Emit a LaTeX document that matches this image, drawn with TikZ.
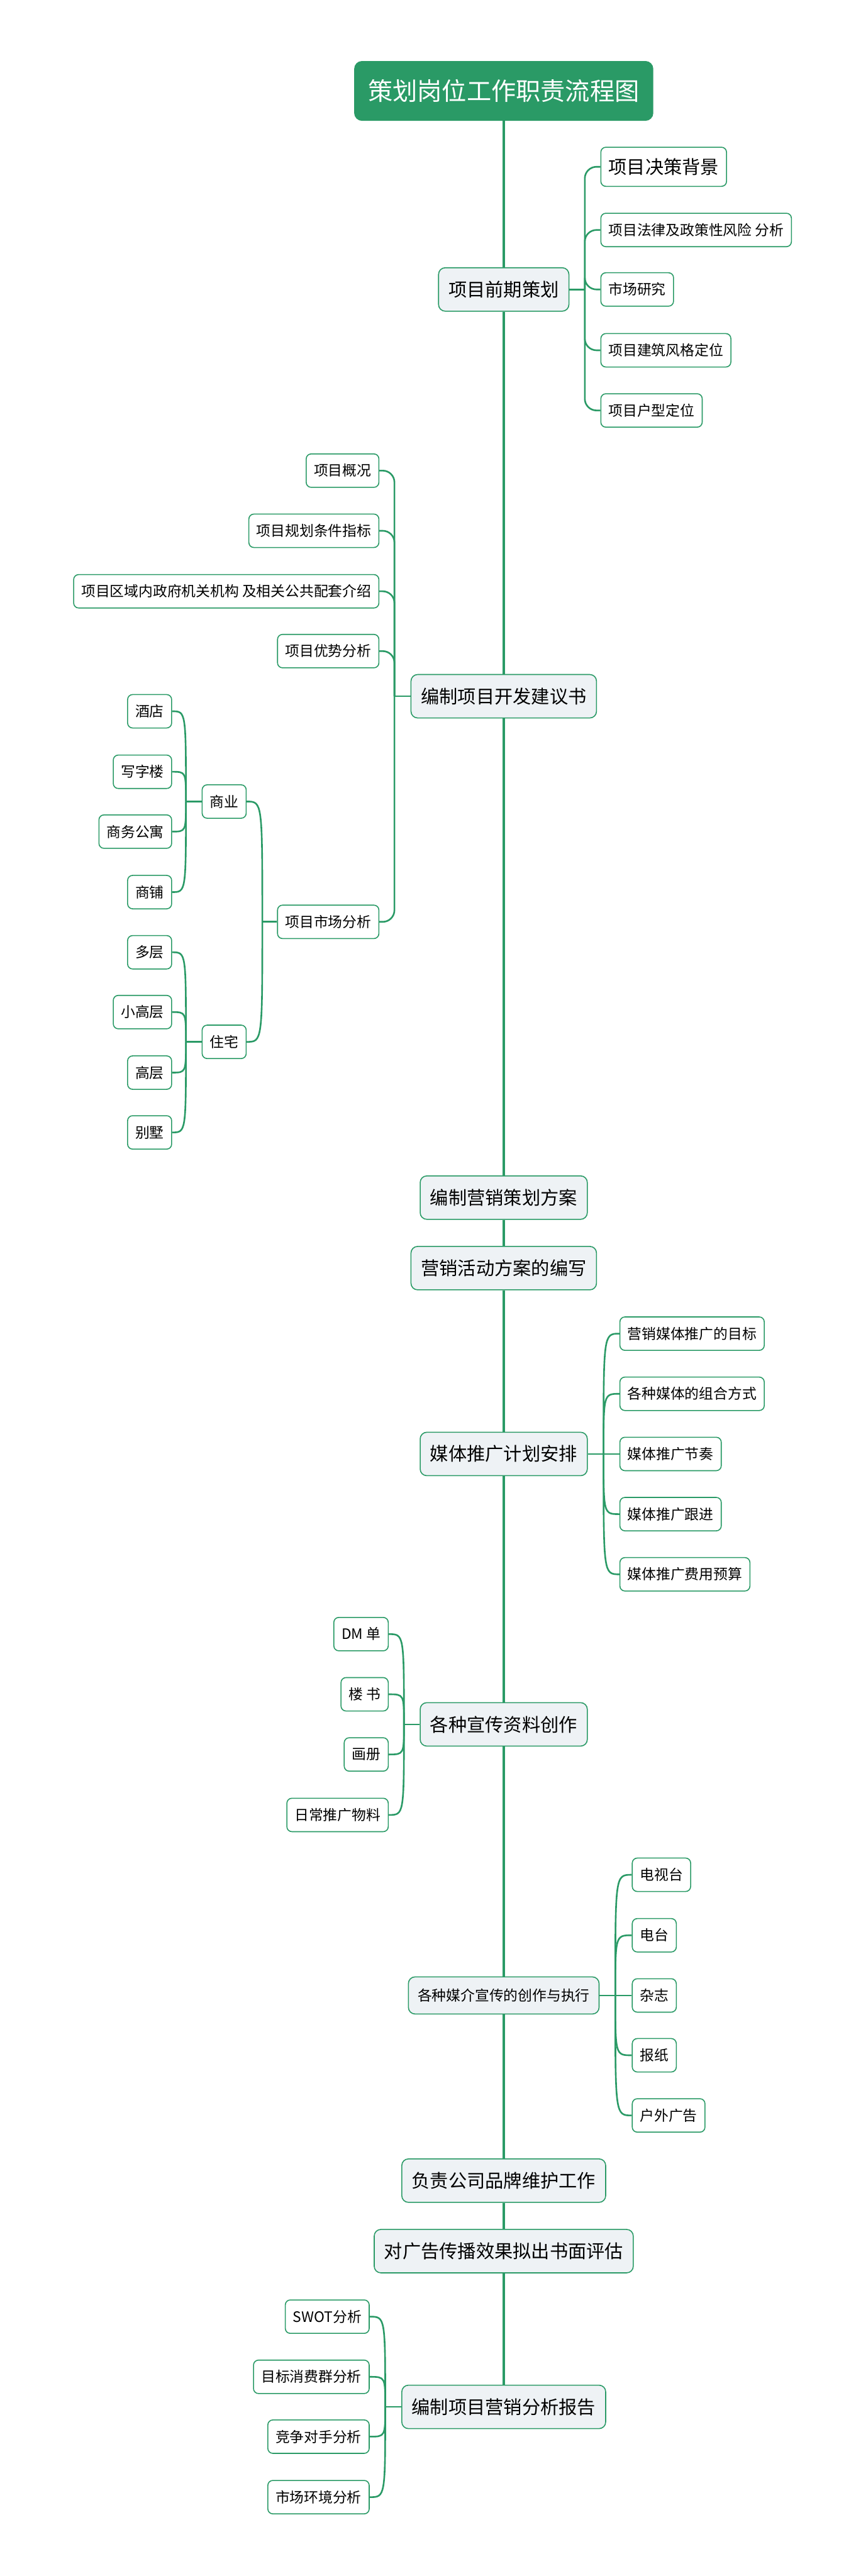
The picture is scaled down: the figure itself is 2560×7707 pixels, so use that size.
\documentclass[tikz,border=0pt]{standalone}
\usepackage{fontspec}
\setmainfont{Noto Sans CJK SC}
\definecolor{mapgreen}{HTML}{2A9A66}
\definecolor{mainfill}{HTML}{EEF2F5}
\tikzset{
    rootbox/.style={draw=mapgreen, fill=mapgreen, text=white, line width=0.85pt,
        rounded corners=2.2mm, font=\fontsize{21}{26}\selectfont,
        minimum height=17.6mm, inner xsep=4mm},
    mainbox/.style={draw=mapgreen, fill=mainfill, line width=0.85pt,
        rounded corners=2mm, font=\fontsize{15.65}{19}\selectfont,
        minimum height=13mm, inner xsep=3mm},
    mainsmall/.style={mainbox, font=\fontsize{12.2}{15}\selectfont,
        minimum height=11.1mm, inner xsep=2.8mm},
    leaf/.style={draw=mapgreen, fill=white, line width=0.85pt,
        rounded corners=1.5mm, font=\fontsize{12.2}{15}\selectfont,
        minimum height=10mm, inner xsep=2.3mm},
    bigleaf/.style={leaf, font=\fontsize{15.65}{19}\selectfont, minimum height=11.7mm},
    trunk/.style={draw=mapgreen, line width=2pt},
    link/.style={draw=mapgreen, line width=1.4pt},
    elbow/.style={link, rounded corners=3.5mm}
}
\begin{document}
\begin{tikzpicture}[x=0.1mm, y=-0.1mm]
    \useasboundingbox (0,0) rectangle (2560,7707);

    % main line
    \node[rootbox] (root) at (1507,272) {策划岗位工作职责流程图};
    \node[mainbox] (m1) at (1507,866) {项目前期策划};
    \node[mainbox] (m2) at (1507,2083) {编制项目开发建议书};
    \node[mainbox] (m3) at (1507,3583) {编制营销策划方案};
    \node[mainbox] (m4) at (1507,3794) {营销活动方案的编写};
    \node[mainbox] (m5) at (1507,4350) {媒体推广计划安排};
    \node[mainbox] (m6) at (1507,5159) {各种宣传资料创作};
    \node[mainsmall] (m7) at (1507,5970) {各种媒介宣传的创作与执行};
    \node[mainbox] (m8) at (1507,6524) {负责公司品牌维护工作};
    \node[mainbox] (m9) at (1507,6735) {对广告传播效果拟出书面评估};
    \node[mainbox] (m10) at (1507,7201) {编制项目营销分析报告};
    \foreach \a/\b in {root/m1, m1/m2, m2/m3, m3/m4, m4/m5, m5/m6, m6/m7, m7/m8, m8/m9, m9/m10}
        \draw[trunk] (\a.south) -- (\b.north);

    % 项目前期策划
    \coordinate (b1) at ([xshift=4.6mm]m1.east);
    \node[bigleaf, anchor=west] (c11) at (1796,499) {项目决策背景};
    \foreach \t/\y [count=\i from 2] in {项目法律及政策性风险 分析/688, 市场研究/866, 项目建筑风格定位/1048, 项目户型定位/1228}
        \node[leaf, anchor=west] (c1\i) at (1796,\y) {\t};
    \draw[link] (m1.east) -- (b1);
    \foreach \i in {1,...,5}
        \draw[elbow] (b1) |- (c1\i.west);

    % 编制项目开发建议书
    \coordinate (b2) at ([xshift=-4.8mm]m2.west);
    \foreach \t/\y [count=\i] in {项目概况/1408, 项目规划条件指标/1588, 项目区域内政府机关机构 及相关公共配套介绍\hspace{2.8mm}/1769, 项目优势分析/1948, 项目市场分析/2758}
        \node[leaf, anchor=east] (c2\i) at (1135,\y) {\t};
    \draw[link] (m2.west) -- (b2);
    \foreach \i in {1,...,5}
        \draw[elbow] (b2) |- (c2\i.east);

    % 项目市场分析
    \coordinate (b25) at ([xshift=-4.4mm]c25.west);
    \node[leaf, anchor=east] (shy) at (738,2398) {商业};
    \node[leaf, anchor=east] (zhz) at (738,3117) {住宅};
    \draw[link] (c25.west) -- (b25);
    \foreach \n in {shy, zhz}
        \draw[link] (b25) .. controls (b25 |- \n.east) .. (\n.east);

    \coordinate (bshy) at ([xshift=-4.7mm]shy.west);
    \foreach \t/\y [count=\i] in {酒店/2128, 写字楼/2309, 商务公寓/2488, 商铺/2669}
        \node[leaf, anchor=east] (s\i) at (515,\y) {\t};
    \draw[link] (shy.west) -- (bshy);
    \foreach \i in {1,...,4}
        \draw[link] (bshy) .. controls (bshy |- s\i.east) .. (s\i.east);

    \coordinate (bzhz) at ([xshift=-4.7mm]zhz.west);
    \foreach \t/\y [count=\i] in {多层/2849, 小高层/3028, 高层/3209, 别墅/3388}
        \node[leaf, anchor=east] (z\i) at (515,\y) {\t};
    \draw[link] (zhz.west) -- (bzhz);
    \foreach \i in {1,...,4}
        \draw[link] (bzhz) .. controls (bzhz |- z\i.east) .. (z\i.east);

    % 媒体推广计划安排
    \coordinate (b5) at ([xshift=4.7mm]m5.east);
    \foreach \t/\y [count=\i] in {营销媒体推广的目标/3990, 各种媒体的组合方式/4170, 媒体推广节奏/4350, 媒体推广跟进/4530, 媒体推广费用预算/4710}
        \node[leaf, anchor=west] (c5\i) at (1853,\y) {\t};
    \draw[link] (m5.east) -- (b5);
    \foreach \i in {1,...,5}
        \draw[link] (b5) .. controls (b5 |- c5\i.west) .. (c5\i.west);

    % 各种宣传资料创作
    \coordinate (b6) at ([xshift=-4.7mm]m6.west);
    \foreach \t/\y [count=\i] in {DM 单/4889, 楼 书/5069, 画册/5249, 日常推广物料/5430}
        \node[leaf, anchor=east] (c6\i) at (1163,\y) {\t};
    \draw[link] (m6.west) -- (b6);
    \foreach \i in {1,...,4}
        \draw[link] (b6) .. controls (b6 |- c6\i.east) .. (c6\i.east);

    % 各种媒介宣传的创作与执行
    \coordinate (b7) at ([xshift=4.7mm]m7.east);
    \foreach \t/\y [count=\i] in {电视台/5609, 电台/5790, 杂志/5970, 报纸/6149, 户外广告/6329}
        \node[leaf, anchor=west] (c7\i) at (1890,\y) {\t};
    \draw[link] (m7.east) -- (b7);
    \foreach \i in {1,...,5}
        \draw[link] (b7) .. controls (b7 |- c7\i.west) .. (c7\i.west);

    % 编制项目营销分析报告
    \coordinate (b10) at ([xshift=-4.8mm]m10.west);
    \foreach \t/\y [count=\i] in {SWOT分析/6931, 目标消费群分析/7111, 竞争对手分析/7290, 市场环境分析/7471}
        \node[leaf, anchor=east] (c10\i) at (1106,\y) {\t};
    \draw[link] (m10.west) -- (b10);
    \foreach \i in {1,...,4}
        \draw[link] (b10) .. controls (b10 |- c10\i.east) .. (c10\i.east);
\end{tikzpicture}
\end{document}
